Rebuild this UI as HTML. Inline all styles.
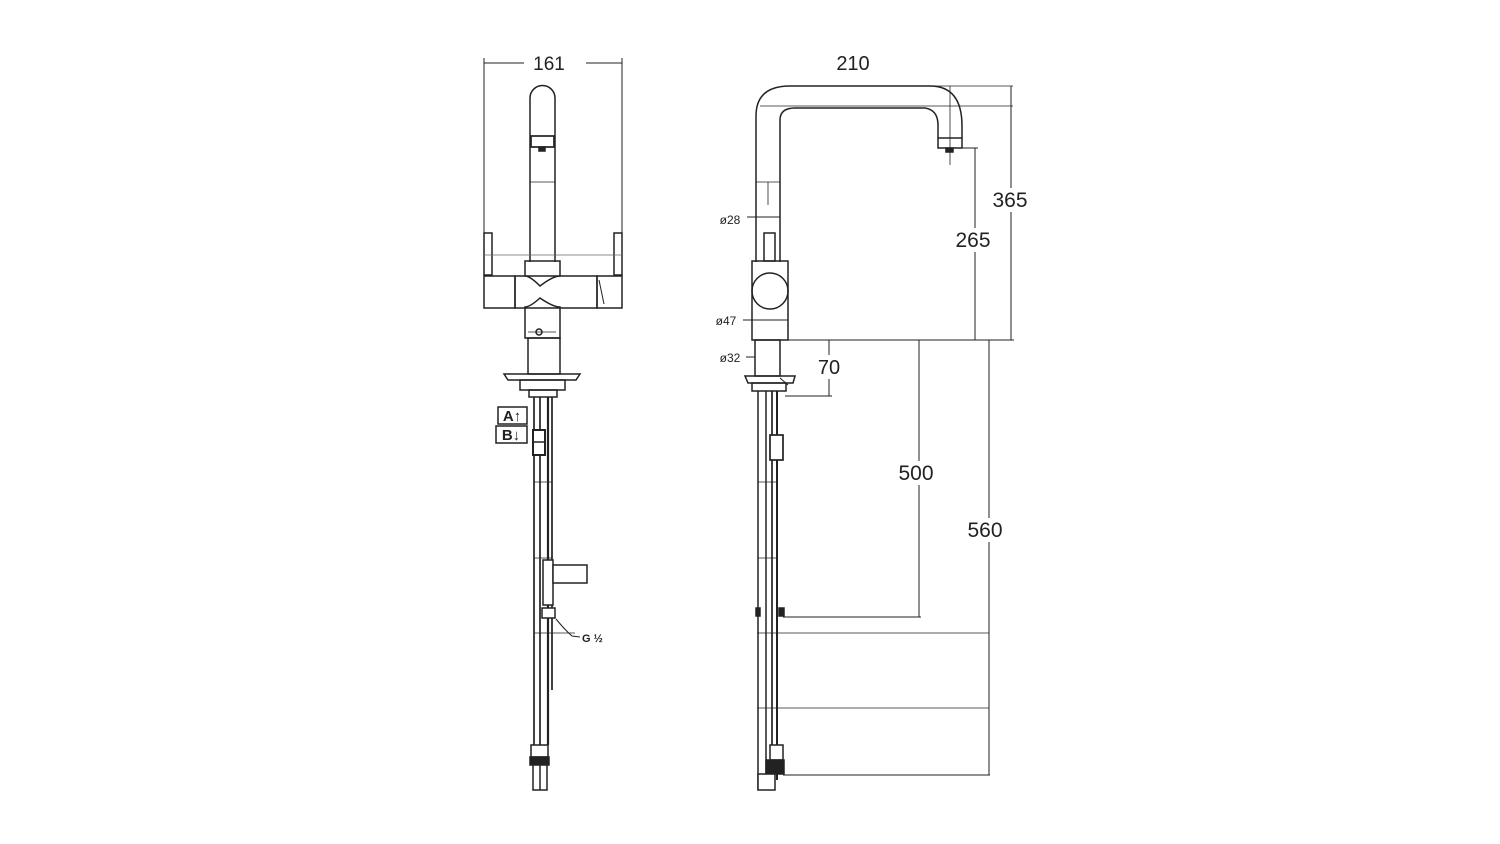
<!DOCTYPE html>
<html><head><meta charset="utf-8"><style>
html,body{margin:0;padding:0;background:#fff;}
svg{display:block}
text{font-family:"Liberation Sans",sans-serif;fill:#222;}
</style></head><body>
<svg width="1500" height="844" viewBox="0 0 1500 844" xmlns="http://www.w3.org/2000/svg">
<g fill="none" stroke="#222" stroke-width="1.5">
<!-- FRONT VIEW -->
<line x1="484" y1="58" x2="484" y2="305" stroke-width="1"/>
<line x1="622" y1="58" x2="622" y2="305" stroke-width="1"/>
<line x1="484" y1="63" x2="524" y2="63" stroke-width="1"/>
<line x1="586" y1="63" x2="622" y2="63" stroke-width="1"/>
<path d="M530 262 L530 98 A12.5 12.5 0 0 1 555 98 L555 262"/>
<rect x="531" y="136" width="23" height="11" stroke-width="1.7"/>
<rect x="539" y="147" width="6" height="4" fill="#222"/>
<line x1="530" y1="182" x2="555" y2="182" stroke-width="0.8"/>
<rect x="484" y="233" width="8" height="42"/>
<rect x="614" y="233" width="8" height="42"/>
<line x1="484" y1="255" x2="622" y2="255" stroke-width="0.7" stroke="#666"/>
<rect x="484" y="276" width="31" height="32"/>
<rect x="515" y="276" width="82" height="32"/>
<rect x="597" y="276" width="25" height="32"/>
<path d="M525 261 L560 261 L560 276 Q553 276 540 286 Q530 276 525 276 Z"/>
<path d="M525 338 L560 338 L560 307 Q553 307 540 298 Q530 307 525 307 Z"/>
<path d="M599 280 L604 304" stroke-width="1"/>
<circle cx="539" cy="332" r="3"/>
<line x1="528" y1="332" x2="556" y2="332" stroke-width="0.8"/>
<rect x="528" y="338" width="32" height="36"/>
<path d="M504 374 L580 374 L576 380 L508 380 Z"/>
<rect x="520" y="380" width="45" height="10"/>
<rect x="529" y="390" width="28" height="7"/>
<line x1="534" y1="397" x2="534" y2="745" stroke-width="1.7"/>
<line x1="540" y1="397" x2="540" y2="745" stroke-width="1.7"/>
<line x1="548" y1="397" x2="548" y2="745" stroke-width="2.2"/>
<line x1="552" y1="397" x2="552" y2="690" stroke-width="1.7"/>
<rect x="533" y="430" width="12" height="25" fill="#fff" stroke-width="2"/>
<line x1="533" y1="442" x2="545" y2="442"/>
<rect x="543" y="560" width="10" height="45" fill="#fff"/>
<rect x="553" y="565" width="34" height="18" fill="#fff"/>
<rect x="542" y="608" width="13" height="10" fill="#fff"/>
<path d="M556 619 Q565 630 572 636 L580 637" stroke-width="1"/>
<line x1="534" y1="482" x2="552" y2="482" stroke-width="0.7"/>
<line x1="534" y1="558" x2="552" y2="558" stroke-width="0.7"/>
<line x1="534" y1="633" x2="575" y2="633" stroke-width="0.7"/>
<rect x="531" y="745" width="17" height="12" fill="#fff"/>
<rect x="530" y="757" width="19" height="8" fill="#222"/>
<rect x="533" y="765" width="14" height="25" fill="#fff"/>
<line x1="540" y1="765" x2="540" y2="790"/>
<rect x="498" y="407" width="29" height="17" fill="#fff"/>
<rect x="496" y="426" width="31" height="17" fill="#fff"/>

<!-- SIDE VIEW -->
<path d="M756 262 L756 116 Q756 86 790 86 L930 86 Q962 86 962 126 L962 138"/>
<path d="M780 262 L780 120 Q780 108 795 108 L925 108 Q938 110 938 125 L938 138"/>
<rect x="938" y="138" width="24" height="10"/>
<rect x="946" y="148" width="7" height="4" fill="#222"/>
<line x1="950" y1="86" x2="950" y2="165" stroke-width="0.8"/>
<line x1="756" y1="182" x2="780" y2="182" stroke-width="0.8"/>
<line x1="768" y1="182" x2="768" y2="205" stroke-width="0.8"/>
<rect x="764" y="233" width="11" height="28"/>
<rect x="752" y="261" width="36" height="79"/>
<circle cx="770" cy="291" r="18"/>
<rect x="755" y="340" width="25" height="36"/>
<path d="M745 376 L795 376 L793 383 L748 383 Z"/>
<rect x="752" y="383" width="34" height="8"/>
<path d="M780 378 L788 385" stroke-width="1"/>
<line x1="758" y1="391" x2="758" y2="790"/>
<line x1="766" y1="391" x2="766" y2="790"/>
<line x1="772" y1="391" x2="772" y2="790" stroke-width="1.7"/>
<line x1="777" y1="391" x2="777" y2="780" stroke-width="2"/>
<rect x="770" y="435" width="13" height="25" fill="#fff" stroke-width="1.7"/>
<rect x="756" y="608" width="4" height="8" fill="#222"/>
<rect x="779" y="608" width="5" height="8" fill="#222"/>
<rect x="770" y="745" width="13" height="15" fill="#fff"/>
<rect x="766" y="760" width="18" height="14" fill="#222"/>
<rect x="758" y="774" width="17" height="16" fill="#fff"/>
<line x1="758" y1="482" x2="777" y2="482" stroke-width="0.7"/>
<line x1="758" y1="558" x2="777" y2="558" stroke-width="0.7"/>
<line x1="747" y1="217" x2="780" y2="217" stroke-width="1"/>
<line x1="743" y1="320" x2="788" y2="320" stroke-width="1"/>
<line x1="746" y1="357" x2="755" y2="357" stroke-width="1"/>
<g stroke-width="1">
<line x1="760" y1="106" x2="1013" y2="106" stroke-width="0.7"/>
<line x1="930" y1="86" x2="1013" y2="86" stroke-width="0.7"/>
<line x1="962" y1="148" x2="978" y2="148"/>
<line x1="788" y1="340" x2="1014" y2="340"/>
<line x1="975" y1="148" x2="975" y2="228"/>
<line x1="975" y1="252" x2="975" y2="340"/>
<line x1="1011" y1="86" x2="1011" y2="188"/>
<line x1="1011" y1="212" x2="1011" y2="340"/>
<line x1="829" y1="340" x2="829" y2="355"/>
<line x1="829" y1="379" x2="829" y2="396"/>
<line x1="785" y1="396" x2="832" y2="396"/>
<line x1="919" y1="340" x2="919" y2="461"/>
<line x1="919" y1="485" x2="919" y2="617"/>
<line x1="783" y1="617" x2="921" y2="617"/>
<line x1="989" y1="340" x2="989" y2="518"/>
<line x1="989" y1="542" x2="989" y2="775"/>
<line x1="757" y1="633" x2="989" y2="633" stroke-width="0.7"/>
<line x1="757" y1="708" x2="989" y2="708" stroke-width="0.7"/>
<line x1="783" y1="775" x2="990" y2="775"/>
</g>
</g>
<text x="549" y="70" font-size="19" text-anchor="middle">161</text>
<text x="853" y="70" font-size="20" text-anchor="middle">210</text>
<text x="1010" y="207" font-size="21" text-anchor="middle">365</text>
<text x="973" y="247" font-size="21" text-anchor="middle">265</text>
<text x="829" y="374" font-size="20" text-anchor="middle">70</text>
<text x="916" y="480" font-size="21" text-anchor="middle">500</text>
<text x="985" y="537" font-size="21" text-anchor="middle">560</text>
<text x="730" y="224" font-size="12" text-anchor="middle">ø28</text>
<text x="726" y="325" font-size="12" text-anchor="middle">ø47</text>
<text x="730" y="362" font-size="12" text-anchor="middle">ø32</text>
<text x="512" y="421" font-size="15" font-weight="bold" text-anchor="middle">A↑</text>
<text x="511" y="440" font-size="15" font-weight="bold" text-anchor="middle">B↓</text>
<text x="582" y="642" font-size="11" font-weight="bold">G ½</text>
</svg>
</body></html>
